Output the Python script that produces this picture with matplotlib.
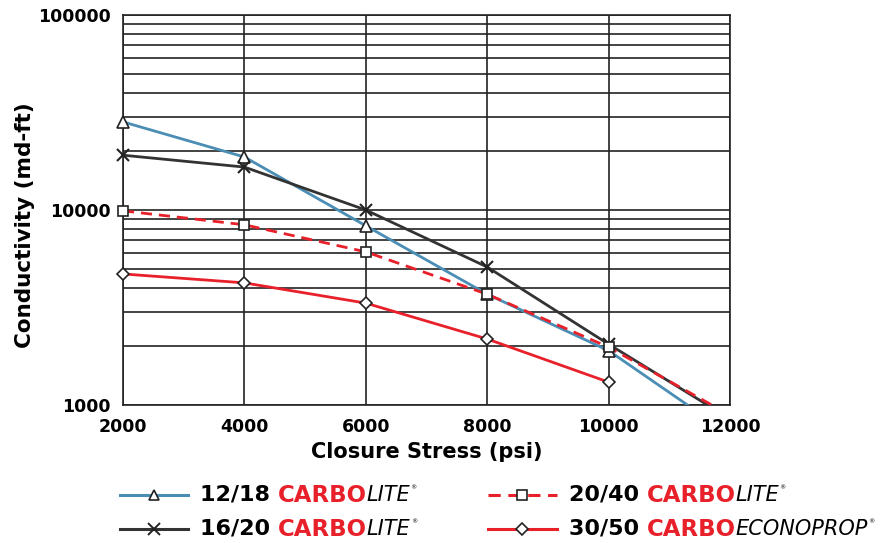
import matplotlib
matplotlib.use("Agg")
import matplotlib.pyplot as plt
from matplotlib.lines import Line2D
from matplotlib.ticker import FixedLocator, NullFormatter, LogLocator

plt.rcParams['font.family'] = ['DejaVu Sans']

# data
stress = [2000, 4000, 6000, 8000, 10000]
cond_1218 = [28300, 18700, 8300, 3700, 1900]
cond_1620 = [19100, 16600, 10000, 5100, 2050]
cond_2040 = [9900, 8400, 6100, 3700, 1980]
cond_3050 = [4700, 4230, 3330, 2180, 1310]
# lines run on past the last point to the bottom of the chart
end_1218 = (11300, 1000)
end_1620 = (11630, 1000)
end_2040 = (11700, 1000)

x_ticks = [2000, 4000, 6000, 8000, 10000, 12000]
y_ticks = [1000, 10000, 100000]

blue = '#4a8db5'
dark = '#333333'
red = '#e8202a'

fig = plt.figure(figsize=(8.95, 5.43), dpi=100)
ax = fig.add_axes([123/895, 1-405/543, 607/895, 390/543])
ax.set_yscale('log')
ax.set_xlim(2000, 12000)
ax.set_ylim(1000, 100000)

# grid: every minor decade line plus vertical lines
ax.yaxis.set_minor_locator(LogLocator(base=10, subs=range(2, 10)))
ax.yaxis.set_minor_formatter(NullFormatter())
ax.grid(True, which='both', axis='y', color='#222222', lw=1.2)
ax.grid(True, which='major', axis='x', color='#222222', lw=1.2)
ax.set_axisbelow(True)

ax.yaxis.set_major_locator(FixedLocator(y_ticks))
ax.set_yticks(y_ticks)
ax.set_yticklabels([str(v) for v in y_ticks])
ax.set_xticks(x_ticks)
ax.set_xticklabels([str(v) for v in x_ticks])
ax.tick_params(which='both', length=0, labelsize=12.5, pad=9)
for lab in ax.get_xticklabels() + ax.get_yticklabels():
    lab.set_fontweight('bold')
for s in ax.spines.values():
    s.set_color('#222222')
    s.set_linewidth(1.2)

mk = dict(markersize=8, markerfacecolor='white', markeredgecolor='#222222',
          markeredgewidth=1.2, clip_on=False, zorder=5)

ax.plot(stress + [end_1218[0]], cond_1218 + [end_1218[1]], color=blue, lw=2, zorder=3)
ax.plot(stress, cond_1218, ls='none', marker='^', **mk)
ax.plot(stress + [end_1620[0]], cond_1620 + [end_1620[1]], color=dark, lw=2, zorder=3)
ax.plot(stress, cond_1620, ls='none', marker='x', markersize=9, color='#222222',
        markeredgewidth=1.5, clip_on=False, zorder=5)
ax.plot(stress + [end_2040[0]], cond_2040 + [end_2040[1]], color=red, lw=2,
        ls=(0, (4, 2.5)), zorder=3)
ax.plot(stress, cond_2040, ls='none', marker='s', **dict(mk, markersize=7))
ax.plot(stress, cond_3050, color=red, lw=2, zorder=3)
ax.plot(stress, cond_3050, ls='none', marker='D', **dict(mk, markersize=6.5))

ax.set_xlabel('Closure Stress (psi)', fontsize=15, fontweight='bold', labelpad=5)
ax.set_ylabel('Conductivity (md-ft)', fontsize=15.5, fontweight='bold')
ax.yaxis.set_label_coords(-0.145, 0.46)

# custom legend
def px(x, y):
    return x / 895, 1 - y / 543

def legend_row(x0, x1, y, color, ls, marker, msize, label, brand):
    xs = [px(x0, y)[0], px(x1, y)[0]]
    ys = [px(x0, y)[1]] * 2
    fig.add_artist(Line2D(xs, ys, color=color, lw=2.2, ls=ls))
    xm, ym = px((x0 + x1) / 2, y)
    if marker == 'x':
        fig.add_artist(Line2D([xm], [ym], marker='x', markersize=8, color='#222222',
                              markeredgewidth=1.4))
    else:
        fig.add_artist(Line2D([xm], [ym], marker=marker, markersize=msize,
                              markerfacecolor='white', markeredgecolor='#222222',
                              markeredgewidth=1.2))
    tx, ty = px(x1 + 12, y)
    pieces = [(label + ' ', dict(color='black', fontweight='bold', fontsize=16)),
              ('CARBO', dict(color=red, fontweight='heavy', fontsize=16.5)),
              (brand, dict(color='black', fontstyle='italic', fontweight='light',
                           fontsize=15)),
              ('®', dict(color='black', fontsize=4.5))]
    r = fig.canvas.get_renderer()
    for i, (txt, kw) in enumerate(pieces):
        t = fig.text(tx, ty + (0.014 if i == 3 else 0), txt, va='center', ha='left', **kw)
        bb = t.get_window_extent(renderer=r)
        tx = bb.x1 / fig.bbox.width

legend_row(120, 188, 495, blue, '-', '^', 7.5, '12/18', 'LITE')
legend_row(120, 188, 529, dark, '-', 'x', 7.5, '16/20', 'LITE')
legend_row(488, 557, 495, red, (0, (4, 2.5)), 's', 7, '20/40', 'LITE')
legend_row(488, 557, 529, red, '-', 'D', 6.5, '30/50', 'ECONOPROP')

fig.savefig('out.png', dpi=100)
